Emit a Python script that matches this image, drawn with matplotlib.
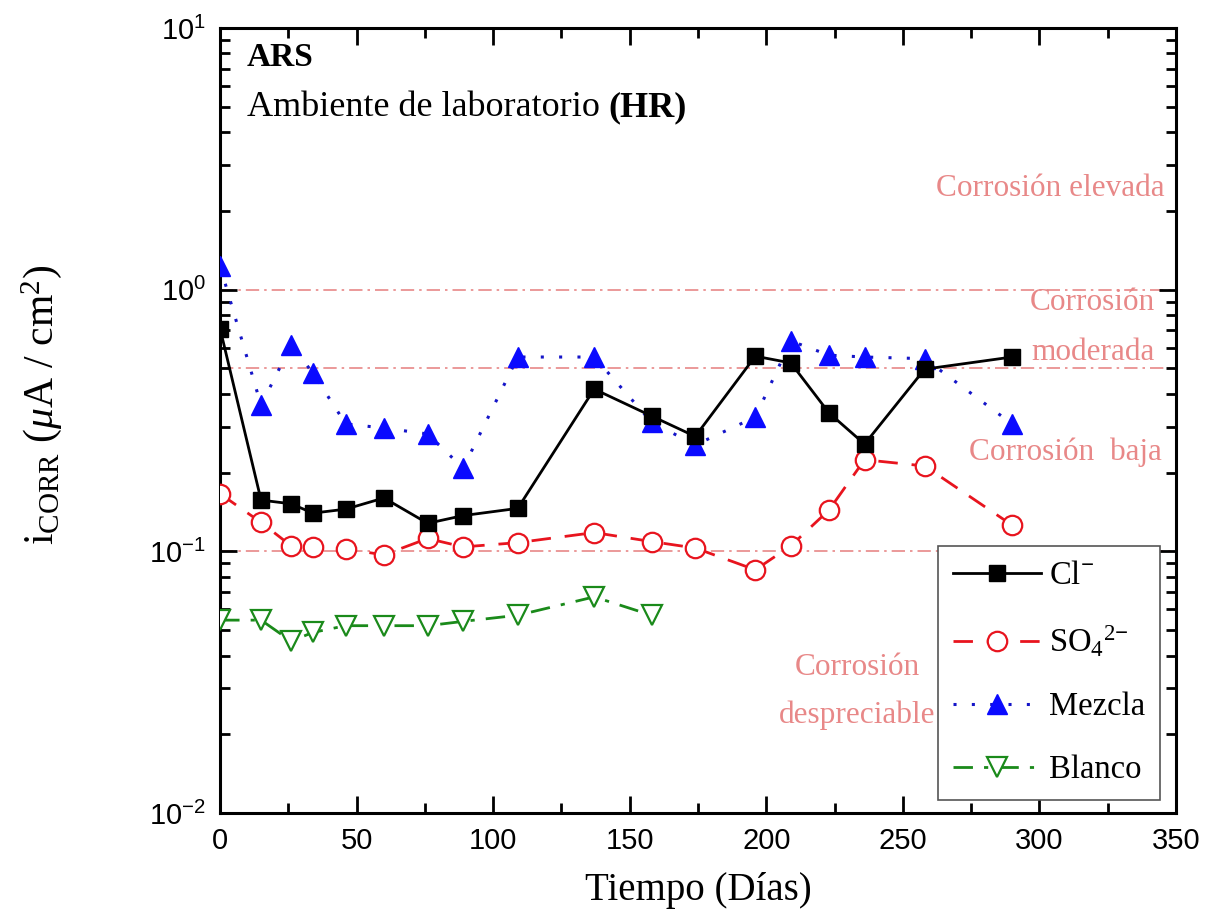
import matplotlib
matplotlib.use("Agg")
import matplotlib.pyplot as plt
from matplotlib.ticker import MultipleLocator, LogLocator, NullFormatter, FuncFormatter
import numpy as np

days = [0, 15, 26, 34, 46, 60, 76, 89, 109, 137, 158, 174, 196, 209, 223, 236, 258, 290]
cl = [0.71, 0.157, 0.152, 0.140, 0.145, 0.160, 0.128, 0.137, 0.146, 0.417, 0.329, 0.275, 0.557, 0.525, 0.338, 0.257, 0.497, 0.553]
so4 = [0.166, 0.129, 0.105, 0.104, 0.102, 0.097, 0.112, 0.104, 0.108, 0.118, 0.109, 0.103, 0.085, 0.105, 0.144, 0.224, 0.212, 0.126]
mezcla = [1.23, 0.362, 0.614, 0.48, 0.307, 0.296, 0.281, 0.208, 0.553, 0.553, 0.312, 0.255, 0.326, 0.637, 0.562, 0.553, 0.545, 0.307]
days_blanco = [0, 15, 26, 34, 46, 60, 76, 89, 109, 137, 158]
blanco = [0.0546, 0.0546, 0.0454, 0.049, 0.052, 0.052, 0.052, 0.054, 0.057, 0.067, 0.057]
thresholds = [1.0, 0.5, 0.1]

serif = "Liberation Serif"
sans = "Liberation Sans"
pink = "#e88888"

plt.rcParams["mathtext.fontset"] = "custom"
plt.rcParams["mathtext.rm"] = "Liberation Serif"
plt.rcParams["mathtext.it"] = "Liberation Serif:italic"
plt.rcParams["mathtext.bf"] = "Liberation Serif:bold"
plt.rcParams["mathtext.sf"] = "Liberation Sans"

fig = plt.figure(figsize=(12.16, 9.16), dpi=100)
ax = fig.add_axes([0.181, 0.1124, 0.786, 0.8570])

for t in thresholds:
    ax.axhline(t, color=pink, lw=1.2, ls=(0, (8, 3, 1.5, 3)), zorder=1)

ax.plot(days, cl, color="black", lw=2, marker="s", ms=12, mfc="black", mec="black",
        label=r"Cl$^{\mathbf{-}}$", zorder=4)
ax.plot(days, so4, color="#e8141e", lw=2, ls=(0, (7, 5)), marker="o", ms=14, mfc="white",
        mec="#e8141e", mew=1.6, label=r"SO$_4$$^{2\mathbf{-}}$", zorder=3)
ax.plot(days, mezcla, color="#1515c8", lw=2.2, ls=(0, (1, 5)), marker="^", ms=14, mfc="#0a0aff",
        mec="#0a0aff", label="Mezcla", zorder=3)
ax.plot(days_blanco, blanco, color="#1a8a1a", lw=2, ls=(0, (7, 4, 1.5, 4)), marker="v", ms=14,
        mfc="white", mec="#1a8a1a", mew=1.6, label="Blanco", zorder=3)

ax.set_yscale("log")
ax.set_xlim(0, 350)
ax.set_ylim(1e-2, 1e1)
ax.xaxis.set_major_locator(MultipleLocator(50))
ax.xaxis.set_minor_locator(MultipleLocator(25))
ax.yaxis.set_major_locator(LogLocator(base=10, numticks=10))
ax.yaxis.set_minor_locator(LogLocator(base=10, subs=range(2, 10), numticks=20))
ax.yaxis.set_minor_formatter(NullFormatter())
ax.yaxis.set_major_formatter(FuncFormatter(lambda v, p: r"$\mathsf{10^{%d}}$" % int(round(np.log10(v)))))
ax.tick_params(which="both", direction="in", top=True, right=True, width=2, labelsize=21)
ax.tick_params(which="major", length=12, pad=10)
ax.tick_params(which="minor", length=7)
for lbl in ax.get_xticklabels() + ax.get_yticklabels():
    lbl.set_fontfamily(sans)
for s in ax.spines.values():
    s.set_linewidth(2.2)

ax.set_xlabel("Tiempo (Días)", fontfamily=serif, fontsize=28, labelpad=12)
ax.set_ylabel(r"i$_{\mathrm{CORR}}$ ($\mu$A / cm$^2$)", fontfamily=serif, fontsize=30)
ax.yaxis.set_label_coords(-0.163, 0.52)

ax.text(0.028, 0.982, "ARS", transform=ax.transAxes, fontfamily=serif, fontsize=24,
        fontweight="bold", va="top", ha="left")
t1 = ax.text(0.028, 0.92, "Ambiente de laboratorio ", transform=ax.transAxes, fontfamily=serif,
             fontsize=26, va="top", ha="left")
ax.annotate("(HR)", xy=(1, 0), xycoords=t1, fontfamily=serif, fontsize=26, fontweight="bold",
            va="bottom", ha="left")

kw = dict(transform=ax.transAxes, fontfamily=serif, fontsize=22.5, color=pink, ha="right")
ax.text(0.988, 0.795, "Corrosión elevada", va="center", **kw)
ax.text(0.978, 0.650, "Corrosión", va="center", **kw)
ax.text(0.978, 0.587, "moderada", va="center", **kw)
ax.text(0.985, 0.459, "Corrosión  baja", va="center", **kw)
kw2 = dict(transform=ax.transAxes, fontfamily=serif, fontsize=22.5, color=pink, ha="center")
ax.text(0.667, 0.186, "Corrosión", va="center", **kw2)
ax.text(0.667, 0.125, "despreciable", va="center", **kw2)

leg = ax.legend(loc="lower right", bbox_to_anchor=(0.983, 0.0166), prop={"family": serif, "size": 23.5},
                frameon=True, fancybox=False, edgecolor="#555555", framealpha=1,
                handlelength=2.7, labelspacing=1.0, borderpad=0.45, borderaxespad=0,
                handletextpad=0.25)
leg.get_frame().set_linewidth(1.2)

fig.savefig("out.png", dpi=100)
